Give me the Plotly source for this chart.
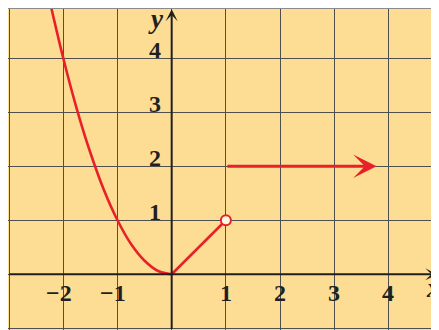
import plotly.graph_objects as go

# values
curve_x = [-2.25, -2.0, -1.75, -1.5, -1.25, -1.0, -0.75, -0.5, -0.25, 0.0]
curve_y = [5.06, 4.0, 3.06, 2.25, 1.56, 1.0, 0.56, 0.25, 0.06, 0.0]
seg_x = [0, 1]
seg_y = [0, 1]
open_x = [1]
open_y = [1]
ray_x = [1, 3.78]
ray_y = [2, 2]
x_ticks = [-2, -1, 1, 2, 3, 4]
x_tick_text = ["\u22122", "\u22121", "1", "2", "3", "4"]
y_ticks = [1, 2, 3, 4]
y_tick_text = ["1", "2", "3", "4"]

RED = "#E8202A"
INK = "#231F20"
FONT = "Liberation Serif"

fig = go.Figure()
fig.add_trace(go.Scatter(x=curve_x, y=curve_y, mode="lines",
                         line=dict(color=RED, width=2.6, shape="spline"),
                         hoverinfo="skip"))
fig.add_trace(go.Scatter(x=seg_x, y=seg_y, mode="lines",
                         line=dict(color=RED, width=2.6), hoverinfo="skip"))
fig.add_trace(go.Scatter(x=open_x, y=open_y, mode="markers",
                         marker=dict(size=10, color="#FFF6E0",
                                     line=dict(color=RED, width=2)),
                         hoverinfo="skip"))

annotations = []
# the ray y = 2 with its arrow
annotations.append(dict(x=ray_x[1], y=ray_y[1], ax=ray_x[0], ay=ray_y[0],
                        xref="x", yref="y", axref="x", ayref="y", text="",
                        showarrow=True, arrowhead=3, arrowsize=1.3,
                        arrowwidth=3, arrowcolor=RED))
# axes with arrows
annotations.append(dict(x=4.9, y=0, ax=-3.02, ay=0, xref="x", yref="y",
                        axref="x", ayref="y", text="", showarrow=True,
                        arrowhead=3, arrowsize=1.0, arrowwidth=2,
                        arrowcolor=INK))
annotations.append(dict(x=0, y=4.91, ax=0, ay=-1.04, xref="x", yref="y",
                        axref="x", ayref="y", text="", showarrow=True,
                        arrowhead=3, arrowsize=1.0, arrowwidth=2,
                        arrowcolor=INK))

for v, t in zip(x_ticks, x_tick_text):
    annotations.append(dict(x=v, y=0, text=t, showarrow=False,
                            xanchor="center", yanchor="top",
                            xshift=-4 if v < 0 else 0, yshift=-4,
                            font=dict(family=FONT, size=24, color=INK,
                                      weight="bold")))
for v, t in zip(y_ticks, y_tick_text):
    annotations.append(dict(x=0, y=v, text=t, showarrow=False,
                            xanchor="right", yanchor="bottom",
                            xshift=-9, yshift=-7,
                            font=dict(family=FONT, size=24, color=INK,
                                      weight="bold")))

annotations.append(dict(x=0, y=4.73, text="<i>y</i>", showarrow=False,
                        xanchor="right", yanchor="middle", xshift=-6,
                        font=dict(family=FONT, size=27, color=INK,
                                  weight="bold")))
annotations.append(dict(x=4.83, y=-0.26, text="<i>x</i>", showarrow=False,
                        xanchor="center", yanchor="middle",
                        font=dict(family=FONT, size=27, color=INK,
                                  weight="bold")))

fig.update_layout(
    width=431, height=322,
    margin=dict(l=0, r=0, t=0, b=0),
    paper_bgcolor="white",
    plot_bgcolor="#FDDD93",
    showlegend=False,
    annotations=annotations,
    shapes=[dict(type="line", xref="paper", yref="paper", x0=0, x1=1,
                 y0=1, y1=1, line=dict(color="#8A8A8A", width=2))],
    xaxis=dict(range=[-3.02, 4.932], dtick=1, tick0=0, showticklabels=False,
               showgrid=True, gridcolor="#4F4F4F", gridwidth=1.3,
               zeroline=False, ticks="", fixedrange=True),
    yaxis=dict(range=[-1.032, 4.931], dtick=1, tick0=0, showticklabels=False,
               showgrid=True, gridcolor="#4F4F4F", gridwidth=1.3,
               zeroline=False, ticks="", fixedrange=True),
)

fig.write_html("out.html")
